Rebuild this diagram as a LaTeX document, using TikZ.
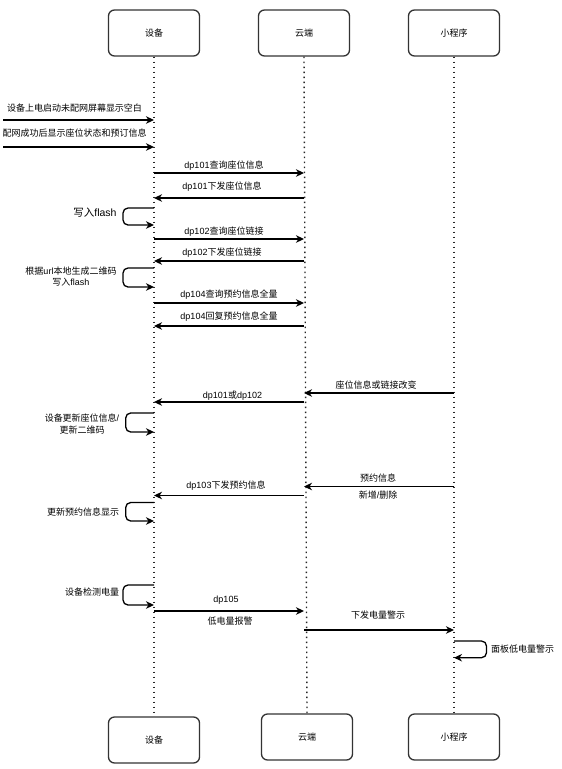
\documentclass[tikz,border=0pt]{standalone}
\usepackage{fontspec}
\setmainfont{Noto Sans CJK SC}
\newfontfamily\lat{Liberation Sans}
\usetikzlibrary{arrows.meta,calc}
\begin{document}
\begin{tikzpicture}[x=1pt,y=-1pt,
  actor/.style={draw=black!80, line width=1.3pt, rounded corners=6pt, minimum width=91pt, minimum height=46pt, inner sep=0pt, font=\fontsize{9}{11}\selectfont},
  life/.style={draw=black!85, line width=1.4pt, dash pattern=on 1.4pt off 3.6pt},
  msg/.style={draw=black, line width=1.3pt, -{Stealth[length=8pt,width=7.5pt,inset=2.5pt]}},
  loopm/.style={msg, rounded corners=5pt},
  lbl/.style={font=\fontsize{9}{11.5}\selectfont, inner sep=0pt, align=center}]
\useasboundingbox (0,0) rectangle (562,769);

% actors
\node[actor] (d1) at (154,33) {设备};
\node[actor] (c1) at (304,33) {云端};
\node[actor] (m1) at (454,33) {小程序};
\node[actor] (d2) at (154,740) {设备};
\node[actor] (c2) at (307,737) {云端};
\node[actor] (m2) at (454,737) {小程序};

% lifelines
\draw[life] (d1.south) -- (d2.north);
\draw[life] (c1.south) -- (c2.north);
\draw[life] (m1.south) -- (m2.north);

% external starts
\coordinate (s1) at (3,120);
\coordinate (s2) at (3,147);
\draw[msg] (s1) -- (d1 |- s1);
\node[lbl] (t1) at (74.5,108) {设备上电启动未配网屏幕显示空白};
\draw[msg] (s2) -- (d1 |- s2);
\node[lbl] (t2) at (74.5,133) {配网成功后显示座位状态和预订信息};

% dp101
\draw[msg] (d1 |- 0,173) -- (c1 |- 0,173);
\node[lbl] (t3) at (224,166) {{\lat dp101}查询座位信息};
\draw[msg] (c1 |- 0,198) -- (d1 |- 0,198);
\node[lbl] (t4) at (222,187) {{\lat dp101}下发座位信息};

% loop write flash
\draw[loopm] (d1 |- 0,208) -- (123,208) -- (123,225) -- (d1 |- 0,225);
\node[lbl, font=\fontsize{10.5}{12}\selectfont] (t5) at (95,213) {写入{\lat flash}};

% dp102
\draw[msg] (d1 |- 0,239) -- (c1 |- 0,239);
\node[lbl] (t6) at (224,232) {{\lat dp102}查询座位链接};
\draw[msg] (c1 |- 0,261) -- (d1 |- 0,261);
\node[lbl] (t7) at (222,253) {{\lat dp102}下发座位链接};

% loop qr
\draw[loopm] (d1 |- 0,268) -- (123,268) -- (123,287) -- (d1 |- 0,287);
\node[lbl] (t8) at (71,276.5) {根据{\lat url}本地生成二维码\\写入{\lat flash}};

% dp104
\draw[msg] (d1 |- 0,303) -- (c1 |- 0,303);
\node[lbl] (t9) at (229,295) {{\lat dp104}查询预约信息全量};
\draw[msg] (c1 |- 0,326) -- (d1 |- 0,326);
\node[lbl] (t10) at (229,317) {{\lat dp104}回复预约信息全量};

% seat change
\draw[msg] (m1 |- 0,393) -- (c1 |- 0,393);
\node[lbl] (t11) at (376,385) {座位信息或链接改变};
\draw[msg] (c1 |- 0,402) -- (d1 |- 0,402);
\node[lbl] (t12) at (232.5,396) {{\lat dp101}或{\lat dp102}};
\draw[loopm] (d1 |- 0,413) -- (125.7,413) -- (125.7,432) -- (d1 |- 0,432);
\node[lbl] (t13) at (82,424) {设备更新座位信息{\lat /}\\更新二维码};

% reservation
\draw[msg] (m1 |- 0,486.5) -- (c1 |- 0,486.5);
\node[lbl] (t14) at (378,478) {预约信息};
\node[lbl] (t15) at (378,495) {新增{\lat /}删除};
\draw[msg] (c1 |- 0,495.5) -- (d1 |- 0,495.5);
\node[lbl] (t16) at (226,486) {{\lat dp103}下发预约信息};
\draw[loopm] (d1 |- 0,502.5) -- (125.7,502.5) -- (125.7,521) -- (d1 |- 0,521);
\node[lbl] (t17) at (83,511.7) {更新预约信息显示};

% battery
\draw[loopm] (d1 |- 0,585) -- (123,585) -- (123,605) -- (d1 |- 0,605);
\node[lbl] (t18) at (92,591.7) {设备检测电量};
\draw[msg] (d1 |- 0,611) -- (c1 |- 0,611);
\node[lbl] (t19) at (226,600) {{\lat dp105}};
\node[lbl] (t20) at (230,621) {低电量报警};
\draw[msg] (c1 |- 0,630) -- (m1 |- 0,630);
\node[lbl] (t21) at (378,615) {下发电量警示};
\draw[loopm] (m1 |- 0,641) -- (486.5,641) -- (486.5,657.7) -- (m1 |- 0,657.7);
\node[lbl, anchor=west] (t22) at (491,649) {面板低电量警示};
\end{tikzpicture}
\end{document}
